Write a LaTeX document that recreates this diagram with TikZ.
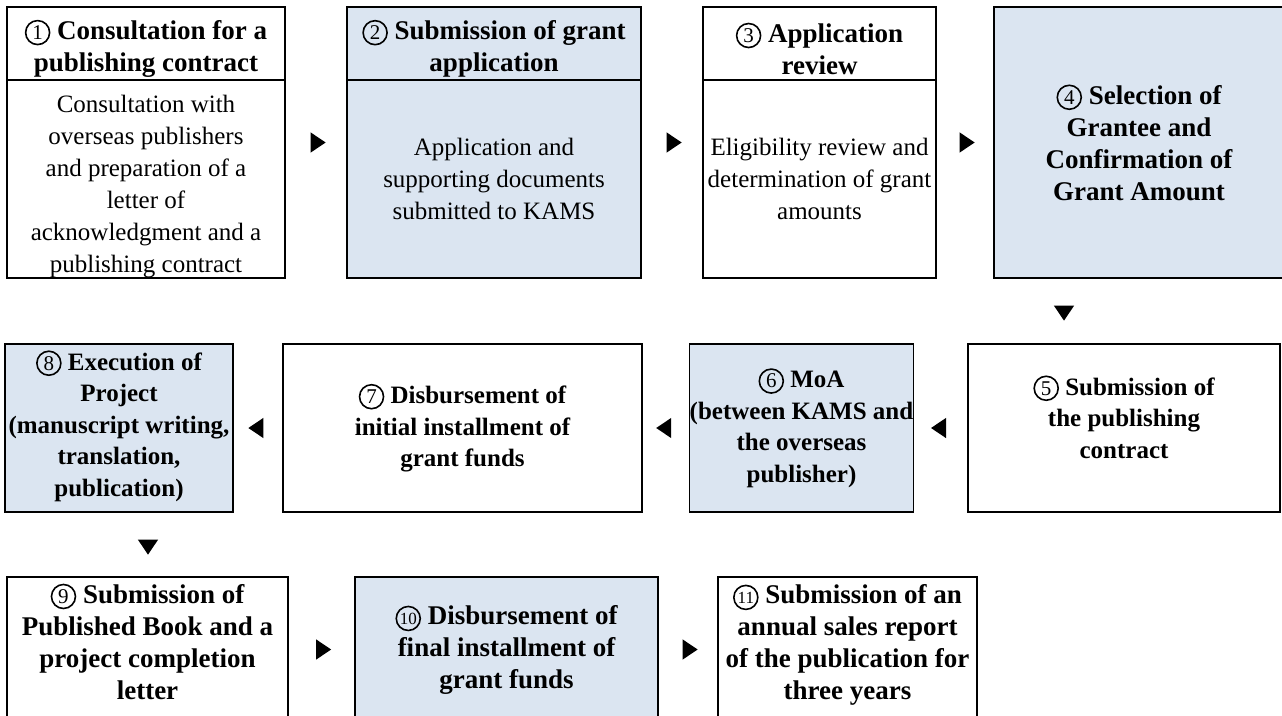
\documentclass[tikz,border=0pt]{standalone}
\usepackage{fontspec}
\setmainfont{Liberation Serif}
\usetikzlibrary{shapes.geometric, positioning, calc}

\definecolor{paleblue}{HTML}{DBE5F1}

% circled step number
\newcommand{\cnum}[1]{\tikz[baseline=(cn.base)]\node[circle, draw, line width=1.6pt, inner sep=0pt, minimum size=24pt, font=\fontsize{21}{21}\selectfont\mdseries] (cn) {#1};}
\newcommand{\cnumw}[1]{\tikz[baseline=(cn.base)]\node[circle, draw, line width=1.6pt, inner sep=0pt, minimum size=24pt, font=\fontsize{17}{17}\selectfont\mdseries] (cn) {#1};}

\begin{document}
\begin{tikzpicture}[
    x=1pt, y=-1pt,
    cell/.style={rectangle, draw, line width=1.2pt, inner sep=0pt, align=center},
    sized/.style 2 args={minimum width=#1pt, minimum height=#2pt},
    head/.style={cell, font=\fontsize{27}{32}\selectfont\bfseries},
    midhead/.style={cell, font=\fontsize{25}{31.5}\selectfont\bfseries},
    body/.style={cell, font=\fontsize{25}{32}\selectfont},
    shade/.style={fill=paleblue},
    tri/.style={isosceles triangle, isosceles triangle apex angle=68, fill=black, inner sep=0pt, minimum width=15pt, minimum height=15pt}
]
\useasboundingbox (0,0) rectangle (1282,715);

% First row
\node[head, sized={278}{73}] (h1) at (146,43.5) {\rule{0pt}{30pt}\cnum{1} Consultation for a\\publishing contract};
\node[body, sized={278}{198}] (b1) at (146,179) {\rule{0pt}{32pt}Consultation with\\overseas publishers\\and preparation of a\\letter of\\acknowledgment and a\\publishing contract};
\node[head, shade, sized={294}{73}] (h2) at (494,43.5) {\rule{0pt}{30pt}\cnum{2} Submission of grant\\application};
\node[body, shade, sized={294}{198}] (b2) at (494,179) {Application and\\supporting documents\\submitted to KAMS};
\node[head, sized={233}{73}] (h3) at (819.5,43.5) {\rule{0pt}{30pt}\cnum{3} Application\\review};
\node[body, sized={233}{198}] (b3) at (819.5,179) {Eligibility review and\\determination of grant\\amounts};
\node[head, shade, sized={290}{271}] (s4) at (1139,142.5) {\cnum{4} Selection of\\Grantee and\\Confirmation of\\Grant Amount};

% Second row (right to left)
\node[midhead, sized={312}{168}] (s5) at (1124,428) {\cnum{5} Submission of\\the publishing\\contract\\[-9pt]};
\node[midhead, shade, sized={221}{168}] (s6) at (801.5,428) {\cnum{6} MoA\\(between KAMS and\\the overseas\\publisher)};
\node[midhead, sized={359}{168}] (s7) at (462.5,428) {\cnum{7} Disbursement of\\initial installment of\\grant funds};
\node[midhead, shade, sized={228}{168}] (s8) at (119,428) {\cnum{8} Execution of\\Project\\(manuscript writing,\\translation,\\publication)\\[-22pt]};

% Third row
\node[head, sized={281}{145}] (s9) at (147.5,649.5) {\cnum{9} Submission of\\Published Book and a\\project completion\\letter\\[-16pt]};
\node[head, shade, sized={303}{145}] (s10) at (506.5,649.5) {\cnumw{10} Disbursement of\\final installment of\\grant funds};
\node[head, sized={259}{145}] (s11) at (847.5,649.5) {\cnumw{11} Submission of an\\annual sales report\\of the publication for\\three years\\[-16pt]};

% Step markers
\node[tri] (t12) at ($(b1.east |- s4)!0.5!(b2.west |- s4)$) {};
\node[tri] (t23) at ($(b2.east |- s4)!0.5!(b3.west |- s4)$) {};
\node[tri] (t34) at ($(b3.east |- s4)!0.5!(s4.west)$) {};
\node[tri, shape border rotate=270] (t45) at (1064,311) {};
\node[tri, shape border rotate=180] (t56) at ($(s5.west)!0.5!(s6.east)$) {};
\node[tri, shape border rotate=180] (t67) at ($(s6.west)!0.5!(s7.east)$) {};
\node[tri, shape border rotate=180] (t78) at ($(s7.west)!0.5!(s8.east)$) {};
\node[tri, shape border rotate=270] (t89) at (148,545) {};
\node[tri] (t910) at ($(s9.east)!0.5!(s10.west)$) {};
\node[tri] (t1011) at ($(s10.east)!0.5!(s11.west)$) {};

\end{tikzpicture}
\end{document}
